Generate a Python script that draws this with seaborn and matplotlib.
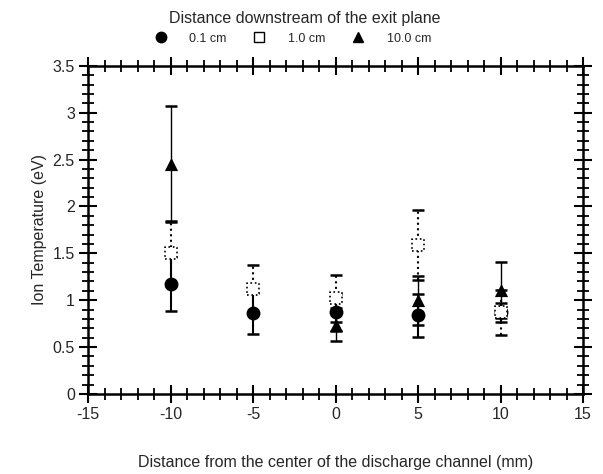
import matplotlib
matplotlib.use("Agg")
import matplotlib.pyplot as plt
from matplotlib.ticker import MultipleLocator, FuncFormatter
from matplotlib.lines import Line2D
import seaborn as sns
import pandas as pd

sns.set_style("white")
plt.rcParams["font.family"] = ["Liberation Sans", "DejaVu Sans"]
plt.rcParams["axes.unicode_minus"] = False

# Ion temperature vs. radial position, for three axial distances
pos_01 = [-10, -5, 0, 5, 10]
temp_01 = [1.17, 0.86, 0.87, 0.84, 0.87]
err_01 = [0.29, 0.22, 0.20, 0.23, 0.10]

pos_10 = [-10, -5, 0, 5, 10]
temp_10 = [1.50, 1.12, 1.02, 1.59, 0.87]
err_10 = [0.35, 0.26, 0.25, 0.37, 0.24]

pos_100 = [-10, 0, 5, 10]
temp_100 = [2.45, 0.74, 1.00, 1.11]
err_100 = [0.62, 0.18, 0.26, 0.30]

series_labels = ["0.1 cm", "1.0 cm", "10.0 cm"]
legend_title = "Distance downstream of the exit plane"

df = pd.concat([
    pd.DataFrame({"x": pos_01, "T": temp_01, "err": err_01, "d": series_labels[0]}),
    pd.DataFrame({"x": pos_10, "T": temp_10, "err": err_10, "d": series_labels[1]}),
    pd.DataFrame({"x": pos_100, "T": temp_100, "err": err_100, "d": series_labels[2]}),
], ignore_index=True)

fig = plt.figure(figsize=(6.03, 4.74), dpi=100)
ax = fig.add_axes([0.146, 0.169, 0.821, 0.692])

styles = {
    "0.1 cm": dict(ls="-", lw=1.5),
    "1.0 cm": dict(ls=":", lw=1.5),
    "10.0 cm": dict(ls="-", lw=1.0),
}
for name, sub in df.groupby("d", sort=False):
    st = styles[name]
    eb = ax.errorbar(sub["x"], sub["T"], yerr=sub["err"], fmt="none",
                     ecolor="black", elinewidth=st["lw"], capsize=4,
                     capthick=1.8, zorder=2)
    eb[2][0].set_linestyle(st["ls"])

markers = {"0.1 cm": "o", "1.0 cm": "s", "10.0 cm": "^"}
sizes = {"0.1 cm": 100, "1.0 cm": 75, "10.0 cm": 90}
for name, sub in df.groupby("d", sort=False):
    hollow = name == "1.0 cm"
    sns.scatterplot(data=sub, x="x", y="T", ax=ax, marker=markers[name],
                    s=sizes[name],
                    color="white" if hollow else "black",
                    edgecolor="black", linewidth=1.2 if hollow else 0,
                    linestyle=":" if hollow else "-",
                    zorder=3, legend=False)

ax.set_xlim(-15, 15)
ax.set_ylim(0, 3.5)
ax.xaxis.set_major_locator(MultipleLocator(5))
ax.xaxis.set_minor_locator(MultipleLocator(1))
ax.yaxis.set_major_locator(MultipleLocator(0.5))
ax.yaxis.set_minor_locator(MultipleLocator(0.1))
ax.yaxis.set_major_formatter(FuncFormatter(lambda v, p: f"{v:g}"))
ax.tick_params(which="both", direction="inout", top=True, right=True,
               bottom=True, left=True, color="black", labelsize=11.5)
ax.tick_params(which="major", length=13, width=1.5, pad=3)
ax.tick_params(which="minor", length=8, width=1.3)
for sp in ax.spines.values():
    sp.set_color("black")
    sp.set_linewidth(1.8)

ax.set_xlabel("Distance from the center of the discharge channel (mm)",
              fontsize=11.5, labelpad=24)
ax.set_ylabel("Ion Temperature (eV)", fontsize=11.5, labelpad=4)

handles = [
    Line2D([], [], marker="o", ls="none", color="black", markersize=7.5),
    Line2D([], [], marker="s", ls="none", markerfacecolor="white",
           markeredgecolor="black", markersize=7),
    Line2D([], [], marker="^", ls="none", color="black", markersize=7.5),
]
fig.text(0.505, 0.962, legend_title, ha="center", va="center", fontsize=11.5)
fig.legend(handles, series_labels, loc="center",
           bbox_to_anchor=(0.48, 0.918), ncol=3, frameon=False,
           fontsize=9, columnspacing=1.6, handletextpad=1.3,
           borderaxespad=0.0)

fig.savefig("out.png", dpi=100)
